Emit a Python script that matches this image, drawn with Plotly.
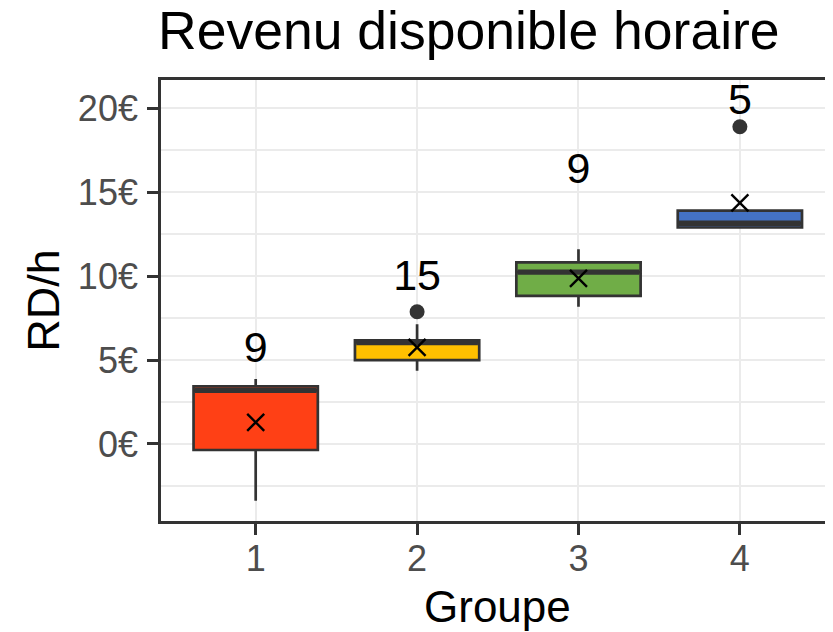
import plotly.graph_objects as go

# ---- data ----
groups = [1, 2, 3, 4]
counts = ["9", "15", "9", "5"]
q1 = [-0.36, 5.0, 8.83, 12.9]
median = [3.2, 6.05, 10.24, 13.15]
q3 = [3.44, 6.18, 10.82, 13.9]
lower_fence = [-3.38, 4.37, 8.18, 12.9]
upper_fence = [3.87, 7.13, 11.61, 13.9]
means = [1.29, 5.76, 9.87, 14.37]
outlier_x = [2, 4]
outlier_y = [7.88, 18.9]
label_y = [5.5, 9.8, 16.2, 20.31]
fills = ["#FF4015", "#FFC000", "#70AD47", "#4472C4"]

y_tick_vals = [0, 5, 10, 15, 20]
y_tick_text = ["0€", "5€", "10€", "15€", "20€"]
x_tick_vals = [1, 2, 3, 4]
x_tick_text = ["1", "2", "3", "4"]

BOX_W = 0.77
DARK = "#333333"
FONT = "Liberation Sans"

# page body adds an 8px offset; layout coordinates below are in figure pixels
W, H = 833, 632
L, R, T, B = 153, 8, 72, 119

fig = go.Figure()

for i, g in enumerate(groups):
    fig.add_trace(go.Box(
        x=[g], q1=[q1[i]], median=[median[i]], q3=[q3[i]],
        lowerfence=[lower_fence[i]], upperfence=[upper_fence[i]],
        width=BOX_W, whiskerwidth=0, boxpoints=False,
        fillcolor=fills[i], line=dict(color=DARK, width=2.7),
        showlegend=False, hoverinfo="skip",
    ))
    half = BOX_W / 2 - 0.008
    fig.add_trace(go.Scatter(
        x=[g - half, g + half], y=[median[i], median[i]], mode="lines",
        line=dict(color=DARK, width=5.4), showlegend=False, hoverinfo="skip",
    ))

fig.add_trace(go.Scatter(
    x=outlier_x, y=outlier_y, mode="markers",
    marker=dict(symbol="circle", size=15, color=DARK, line=dict(width=0)),
    showlegend=False, hoverinfo="skip",
))

fig.add_trace(go.Scatter(
    x=groups, y=means, mode="markers",
    marker=dict(symbol="x-thin", size=17, line=dict(color="black", width=2.4)),
    showlegend=False, hoverinfo="skip",
))

fig.add_trace(go.Scatter(
    x=groups, y=label_y, mode="text", text=counts,
    textposition="middle center",
    textfont=dict(family=FONT, size=43, color="black"),
    showlegend=False, hoverinfo="skip",
))

pw = W - L - R
ph = H - T - B

fig.update_layout(
    width=W, height=H,
    margin=dict(l=L, r=R, t=T, b=B, autoexpand=False),
    paper_bgcolor="white", plot_bgcolor="white",
    font=dict(family=FONT),
    title=dict(text="Revenu disponible horaire", x=(L - 3) / W, xref="container", xanchor="left",
               y=1 - 22 / H, yref="container", yanchor="middle",
               font=dict(family=FONT, size=53.5, color="black")),
    boxmode="overlay",
    annotations=[
        dict(text="Groupe", xref="paper", yref="paper",
             x=(489 - L) / pw, y=-(598 - (T + ph)) / ph,
             xanchor="center", yanchor="middle", showarrow=False,
             font=dict(family=FONT, size=44, color="black")),
        dict(text="RD/h", xref="paper", yref="paper",
             x=(35.3 - L) / pw, y=(T + ph - 292.5) / ph, textangle=-90,
             xanchor="center", yanchor="middle", showarrow=False,
             font=dict(family=FONT, size=45, color="black")),
    ],
)

fig.update_xaxes(
    range=[0.4133, 4.577], tickvals=x_tick_vals, ticktext=x_tick_text,
    automargin=False,
    showgrid=True, gridcolor="#EBEBEB", gridwidth=2.2,
    showline=True, linecolor=DARK, linewidth=2.7, mirror=True,
    ticks="outside", ticklen=11, tickwidth=2.5, tickcolor=DARK,
    tickfont=dict(family=FONT, size=36, color="#4D4D4D"),
    ticklabelstandoff=-7,
    zeroline=False,
)

fig.update_yaxes(
    range=[-4.59, 21.69], tickvals=y_tick_vals, ticktext=y_tick_text,
    automargin=False,
    showgrid=True, gridcolor="#EBEBEB", gridwidth=2.2,
    minor=dict(dtick=2.5, tick0=2.5, showgrid=True, gridcolor="#EBEBEB", gridwidth=1.5, ticks=""),
    showline=True, linecolor=DARK, linewidth=2.7, mirror=False,
    ticks="outside", ticklen=11, tickwidth=2.5, tickcolor=DARK,
    tickfont=dict(family=FONT, size=36, color="#4D4D4D"),
    ticklabelstandoff=2,
    zeroline=False,
)

fig.write_html("out.html")
